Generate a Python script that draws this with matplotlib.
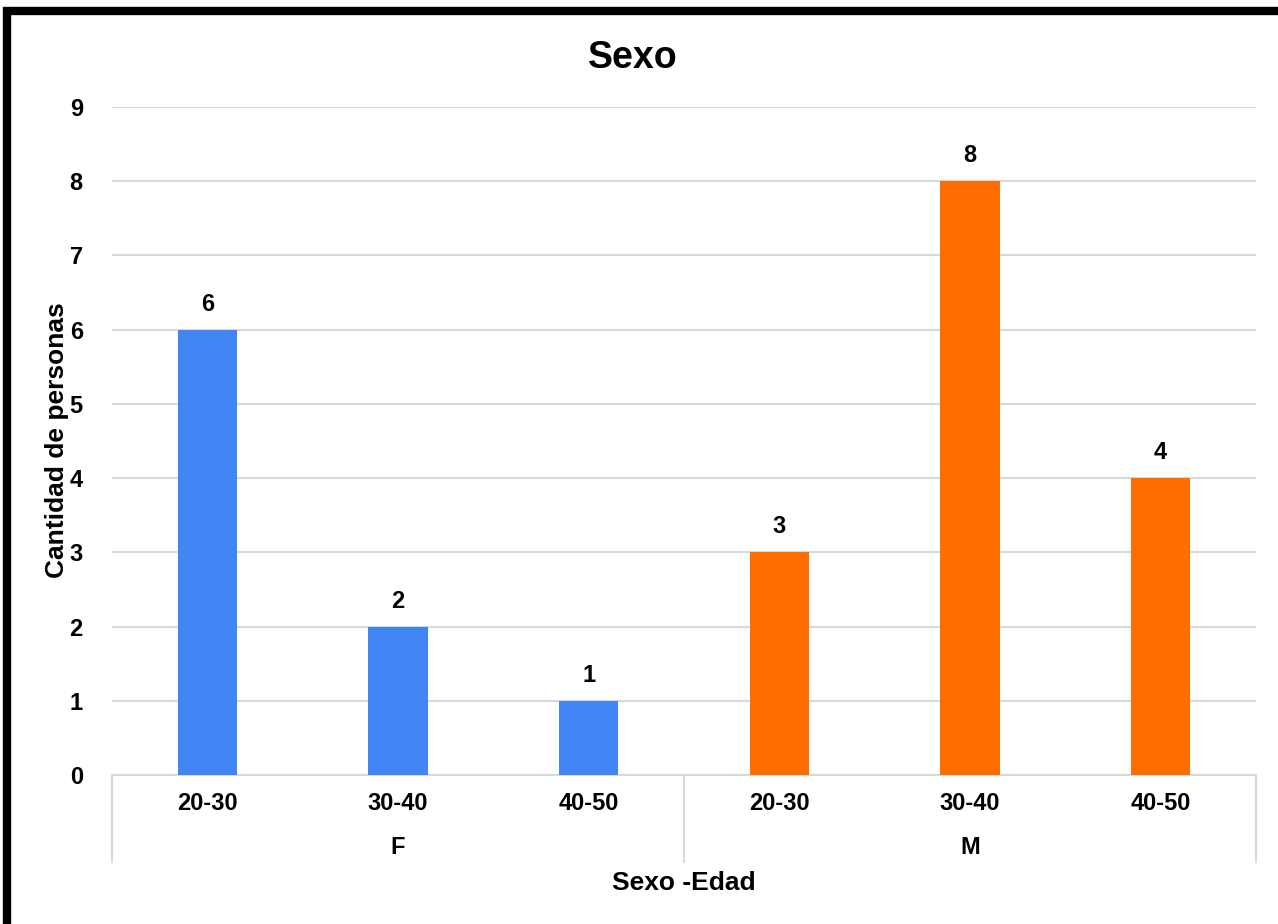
import matplotlib
matplotlib.use("Agg")
import matplotlib.pyplot as plt
from matplotlib.patches import Rectangle
import matplotlib.transforms as mtransforms

# Data
groups = ["F", "M"]
ages = ["20-30", "30-40", "40-50"]
values_F = [6, 2, 1]
values_M = [3, 8, 4]
colors = {"F": "#4285F4", "M": "#FF6D01"}

plt.rcParams['font.family'] = ['Liberation Sans', 'DejaVu Sans']
plt.rcParams['font.weight'] = 'bold'

fig = plt.figure(figsize=(12.78, 9.24), dpi=100)
ax = fig.add_axes([112/1278, (924-775)/924, (1256-112)/1278, (775-107)/924])

labels = []
vals = []
cols = []
for g, vs in zip(groups, [values_F, values_M]):
    for a, v in zip(ages, vs):
        labels.append(a)
        vals.append(v)
        cols.append(colors[g])

x = list(range(len(vals)))
bars = ax.bar(x, vals, width=0.31, color=cols, zorder=3)
for xi, v in zip(x, vals):
    ax.annotate(str(v), (xi, v), xytext=(0, 10), textcoords="offset points",
                ha="center", va="bottom", fontsize=17, fontweight="bold")

ax.set_xlim(-0.5, len(vals) - 0.5)
ax.set_ylim(0, 9)
ax.set_yticks(range(0, 10))
ax.yaxis.grid(True, color="#d9d9d9", lw=1.5, zorder=0)
ax.set_axisbelow(True)
for s in ["top", "right", "left"]:
    ax.spines[s].set_visible(False)
ax.spines["bottom"].set_color("#d9d9d9")
ax.spines["bottom"].set_linewidth(1.5)
ax.tick_params(axis="y", length=0, pad=21, labelsize=17)
ax.set_xticks([])
for lab in ax.get_yticklabels():
    lab.set_fontweight("bold")

trans = mtransforms.blended_transform_factory(ax.transData, ax.transAxes)
for xi, lab in zip(x, labels):
    ax.text(xi, -0.042, lab, transform=trans, ha="center", va="center",
            fontsize=17, fontweight="bold")
n = len(ages)
for gi, g in enumerate(groups):
    ax.text(gi * n + (n - 1) / 2, -0.108, g, transform=trans, ha="center",
            va="center", fontsize=17, fontweight="bold")
for sep in [-0.5, n - 0.5, 2 * n - 0.5]:
    ax.plot([sep, sep], [0, -0.13], transform=trans, color="#d9d9d9", lw=1.5,
            clip_on=False)

ax.text(0.5, -0.162, "Sexo -Edad", transform=ax.transAxes, ha="center",
        va="center", fontsize=19, fontweight="bold")
fig.text(57/1278, 1 - 440/924, "Cantidad de personas", rotation=90,
         ha="center", va="center", fontsize=19, fontweight="bold")
fig.text(633/1278, 1 - 58/924, "Sexo", ha="center", va="center",
         fontsize=27, fontweight="bold")

fig.patches.append(Rectangle((6.5/1278, -0.1), 1.2, 1.1 - 11/924,
                             transform=fig.transFigure, fill=False,
                             edgecolor="black", lw=6, figure=fig))

fig.savefig("out.png", dpi=100)
